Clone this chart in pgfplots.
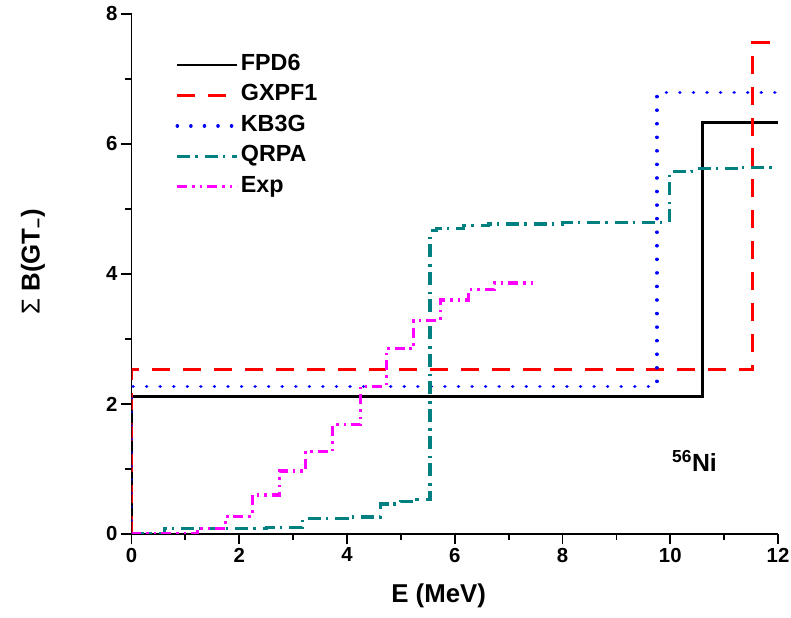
\documentclass[border=0pt]{standalone}
\usepackage{fontspec}
\setmainfont{Liberation Sans}
\usepackage{pgfplots}
\pgfplotsset{compat=1.18}
\definecolor{qteal}{RGB}{0,128,128}
\definecolor{qmag}{RGB}{255,0,255}
\definecolor{qred}{RGB}{255,0,0}
\definecolor{qblue}{RGB}{0,0,255}
\begin{document}
\begin{tikzpicture}
\path[use as bounding box] (-132bp,-84bp) rectangle (662bp,536bp);
\begin{axis}[
  at={(0,0)}, anchor=south west,
  scale only axis, width=649bp, height=522bp,
  xmin=0, xmax=12, ymin=0, ymax=8,
  axis x line*=bottom, axis y line*=left,
  axis line style={-, line width=2bp},
  tick align=outside,
  major tick length=10.5bp, minor tick length=6.5bp,
  every tick/.style={black, line width=1.8bp},
  xtick={0,2,...,12}, ytick={0,2,...,8},
  minor x tick num=1, minor y tick num=1,
  /pgf/number format/assume math mode=true,
  ticklabel style={font=\fontsize{20.5}{22}\selectfont\bfseries},
  xlabel={E (MeV)},
  ylabel={{\mdseries Σ} B(GT\textsubscript{–})},
  label style={font=\fontsize{26}{28}\selectfont\bfseries},
  xlabel style={at={(axis description cs:0.475,0)}, anchor=center, yshift=-62bp},
  ylabel style={at={(axis description cs:-0.1525,0.523)}, anchor=center},
  legend style={at={(axis description cs:0.0678,0.926)}, anchor=north west,
    draw=none, fill=none, inner sep=0pt, row sep=5.5bp,
    font=\fontsize{23.5}{25}\selectfont\bfseries,
    nodes={text height=16bp, text depth=5bp, inner sep=2bp}},
  legend cell align=left,
  legend image code/.code={\draw[#1] (0bp,0bp) -- (60bp,0bp);},
]
\addplot[const plot, black, line width=2.8bp] coordinates {(0,0)(0,2.11)(10.6,6.33)(12,6.33)};
\addlegendentry{FPD6}
\addplot[const plot, qred, line width=3.2bp, dash pattern=on 18bp off 13bp] coordinates {(0,0)(0,2.53)(11.52,7.56)(12,7.56)};
\addlegendentry{GXPF1}
\addplot[const plot, qblue, line width=3.6bp, line cap=round, dash pattern=on 0.01bp off 13.6bp] coordinates {(0,0)(0,2.27)(9.75,6.79)(12,6.79)};
\addlegendentry{KB3G}
\addplot[const plot, qteal, line width=3.2bp, dash pattern=on 13bp off 5bp on 2.5bp off 7bp] coordinates {(0,0)(0.61,0.08)(1.5,0.09)(2.5,0.1)(3.17,0.24)(4.0,0.26)(4.62,0.46)(5.0,0.5)(5.3,0.53)(5.54,4.67)(5.66,4.70)(6.16,4.74)(6.62,4.77)(8,4.79)(9.98,5.58)(10.4,5.62)(11.3,5.64)(12,5.64)};
\addlegendentry{QRPA}
\addplot[const plot, qmag, line width=3.2bp, dash pattern=on 10bp off 5bp on 2.5bp off 5bp on 2.5bp off 5bp] coordinates {(0,0)(1.22,0.09)(1.75,0.27)(2.24,0.6)(2.74,0.97)(3.23,1.27)(3.73,1.68)(4.25,2.27)(4.73,2.85)(5.24,3.28)(5.73,3.6)(6.25,3.76)(6.74,3.86)(7.45,3.86)};
\addlegendentry{Exp}
\node[font=\fontsize{25}{27}\selectfont\bfseries] at (axis cs:10.45,1.13) {\textsuperscript{56}Ni};
\end{axis}
\end{tikzpicture}
\end{document}
